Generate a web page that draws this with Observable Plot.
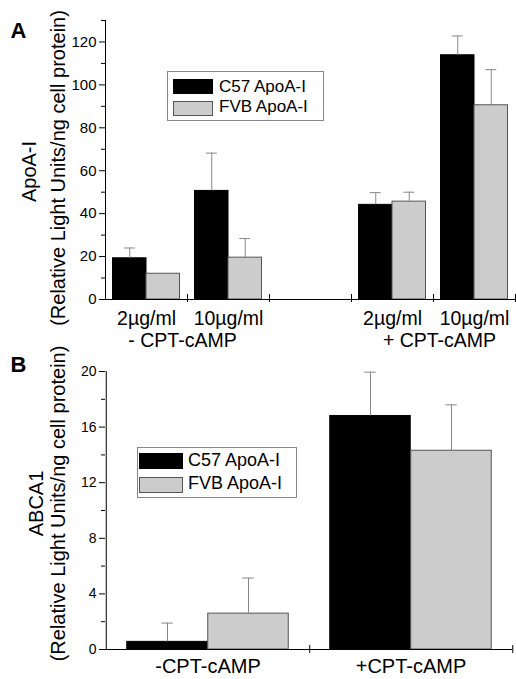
<!DOCTYPE html>
<html><head><meta charset="utf-8">
<script src="https://cdn.jsdelivr.net/npm/d3@7"></script>
<script src="https://cdn.jsdelivr.net/npm/@observablehq/plot@0.6"></script>
<style>
body{margin:0;background:#fff;font-family:"Liberation Sans",Arial,sans-serif;}
#wrap{position:relative;width:516px;height:679px;overflow:hidden;background:#fff;}
#wrap svg{display:block;overflow:visible;}
.box{position:absolute;border:1px solid #888;background:#fff;box-sizing:border-box;}
.sw{position:absolute;box-sizing:border-box;border:1px solid;}
.lt{position:absolute;white-space:nowrap;color:#000;line-height:1;}
</style></head><body><div id="wrap"></div>
<script>
// ---- data ----
const seriesNames = ["C57 ApoA-I", "FVB ApoA-I"];
const seriesFill = ["#000000", "#cccccc"];
const seriesStroke = ["#000000", "#555555"];
const errColor = "#888888";

const aCategories = ["2µg/ml -cAMP", "10µg/ml -cAMP", "gap", "2µg/ml +cAMP", "10µg/ml +cAMP"];
const aTickLabels = ["2µg/ml", "10µg/ml", "", "2µg/ml", "10µg/ml"];
const aGroupLabels = ["- CPT-cAMP", "+ CPT-cAMP"];
const aC57 = [19.2, 50.6, null, 44.1, 113.8];
const aC57Err = [4.8, 17.6, null, 5.7, 9.0];
const aFVB = [12.0, 19.5, null, 45.6, 90.5];
const aFVBErr = [0, 8.9, null, 4.4, 16.6];
const aYTicks = [0, 20, 40, 60, 80, 100, 120];
const aYMinor = [10, 30, 50, 70, 90, 110, 130];
const aYLabel = ["ApoA-I", "(Relative Light Units/ng cell protein)"];

const bCategories = ["-CPT-cAMP", "+CPT-cAMP"];
const bTickLabels = ["-CPT-cAMP", "+CPT-cAMP"];
const bC57 = [0.55, 16.8];
const bC57Err = [1.35, 3.15];
const bFVB = [2.58, 14.3];
const bFVBErr = [2.56, 3.3];
const bYTicks = [0, 4, 8, 12, 16, 20];
const bYMinor = [2, 6, 10, 14, 18];
const bYLabel = ["ABCA1", "(Relative Light Units/ng cell protein)"];

function rowsFor(cats, c57, c57e, fvb, fvbe) {
  const out = [];
  cats.forEach((c, i) => {
    if (c57[i] != null) out.push({cat: c, s: 0, value: c57[i], err: c57e[i]});
    if (fvb[i] != null) out.push({cat: c, s: 1, value: fvb[i], err: fvbe[i]});
  });
  return out;
}

function panel(cfg) {
  const W = 516;
  const bw = (W - cfg.marginLeft - cfg.marginRight) / cfg.cats.length;
  const pad = cfg.pad;
  const w = (bw - 2 * pad) / 2;
  const cap = cfg.cap;
  const rows = rowsFor(cfg.cats, cfg.c57, cfg.c57Err, cfg.fvb, cfg.fvbErr);
  const marks = [];
  [0, 1].forEach(s => {
    const data = rows.filter(d => d.s === s);
    marks.push(Plot.barY(data, {
      x: "cat", y: "value", fill: seriesFill[s], stroke: seriesStroke[s], strokeWidth: 1,
      insetLeft: s === 0 ? pad : pad + w, insetRight: s === 0 ? pad + w : pad
    }));
    const ed = data.filter(d => d.err > 0);
    marks.push(Plot.ruleX(ed, {
      x: "cat", y1: "value", y2: d => d.value + d.err, dx: s === 0 ? -w / 2 : w / 2,
      stroke: errColor, strokeWidth: 1
    }));
    const cx = s === 0 ? pad + w / 2 : pad + w + w / 2;
    marks.push(Plot.tickY(ed, {
      x: "cat", y: d => d.value + d.err, stroke: errColor, strokeWidth: 1,
      insetLeft: cx - cap / 2, insetRight: bw - cx - cap / 2
    }));
  });
  marks.push(Plot.ruleY([0], {stroke: "#000", strokeWidth: 1}));
  marks.push(Plot.ruleX([cfg.cats[0]], {x: d => d, y1: 0, y2: cfg.yMax, dx: -bw / 2, stroke: "#000", strokeWidth: 1}));
  marks.push(Plot.ruleX(cfg.cats, {x: d => d, y1: 0, y2: 0, dx: bw / 2, insetTop: -cfg.xTickUp, insetBottom: -cfg.xTickDown, stroke: "#000", strokeWidth: 1}));
  marks.push(Plot.axisY(cfg.yTicks, {tickSize: 6, tickPadding: 3, fontSize: cfg.yFont, label: null, stroke: "#000"}));
  marks.push(Plot.axisY(cfg.yMinor, {tickSize: 4, tickFormat: () => "", label: null, stroke: "#000"}));
  marks.push(Plot.axisX(cfg.cats, {tickSize: 0, tickPadding: cfg.xPad, fontSize: cfg.xFont, label: null,
    tickFormat: d => cfg.tickLabels[cfg.cats.indexOf(d)]}));
  marks.push(Plot.text([cfg.yLabel[0]], {frameAnchor: "left", textAnchor: "middle", rotate: -90, fontSize: 20, dx: cfg.l1dx, dy: cfg.l1dy}));
  marks.push(Plot.text([cfg.yLabel[1]], {frameAnchor: "left", textAnchor: "middle", rotate: -90, fontSize: 20, dx: cfg.l2dx, dy: cfg.l2dy}));
  marks.push(Plot.text([cfg.letter], {frameAnchor: "top-left", textAnchor: "start", fontSize: 22, fontWeight: "bold", dx: -95, dy: cfg.letterDy}));
  if (cfg.extra) marks.push(...cfg.extra(bw));
  return Plot.plot({
    width: W, height: cfg.height,
    marginLeft: cfg.marginLeft, marginRight: cfg.marginRight, marginTop: cfg.marginTop, marginBottom: cfg.marginBottom,
    style: {fontFamily: "'Liberation Sans', Arial, sans-serif", color: "#000", background: "transparent", overflow: "visible"},
    x: {type: "band", domain: cfg.cats, padding: 0},
    y: {domain: [0, cfg.yMax]},
    marks
  });
}

const wrap = document.getElementById("wrap");

const svgA = panel({
  cats: aCategories, tickLabels: aTickLabels, c57: aC57, c57Err: aC57Err, fvb: aFVB, fvbErr: aFVBErr,
  yMax: 130, yTicks: aYTicks, yMinor: aYMinor, yLabel: aYLabel, letter: "A",
  height: 347, marginLeft: 105, marginRight: 1, marginTop: 20, marginBottom: 48,
  pad: 7.5, cap: 11, yFont: 15, xFont: 19.5, xPad: 12, xTickUp: 5, xTickDown: 3,
  l1dx: -75.5, l1dy: 11.5, l2dx: -47, l2dy: 8, letterDy: 1.6,
  extra: (bw) => [
    Plot.text([aGroupLabels[0]], {x: () => aCategories[1], frameAnchor: "bottom", lineAnchor: "top", fontSize: 19.5, dy: 34, dx: -bw / 2 - 5}),
    Plot.text([aGroupLabels[1]], {x: () => aCategories[4], frameAnchor: "bottom", lineAnchor: "top", fontSize: 19.5, dy: 34, dx: -bw / 2 + 6})
  ]
});
wrap.appendChild(svgA);

const svgB = panel({
  cats: bCategories, tickLabels: bTickLabels, c57: bC57, c57Err: bC57Err, fvb: bFVB, fvbErr: bFVBErr,
  yMax: 20, yTicks: bYTicks, yMinor: bYMinor, yLabel: bYLabel, letter: "B",
  height: 332, marginLeft: 105, marginRight: 4, marginTop: 24, marginBottom: 30,
  pad: 20.75, cap: 12, yFont: 14, xFont: 20, xPad: 9, xTickUp: 4, xTickDown: 4,
  l1dx: -68.8, l1dy: -7, l2dx: -47, l2dy: -7, letterDy: -14.7
});
wrap.appendChild(svgB);

function legend(box, sw, txt) {
  const b = document.createElement("div");
  b.className = "box";
  Object.assign(b.style, {left: box[0] + "px", top: box[1] + "px", width: box[2] + "px", height: box[3] + "px"});
  wrap.appendChild(b);
  seriesNames.forEach((name, i) => {
    const s = document.createElement("div");
    s.className = "sw";
    Object.assign(s.style, {left: sw.x + "px", top: sw.tops[i] + "px", width: sw.w + "px", height: sw.h + "px",
      background: seriesFill[i], borderColor: seriesStroke[i]});
    wrap.appendChild(s);
    const t = document.createElement("div");
    t.className = "lt";
    t.textContent = name;
    Object.assign(t.style, {left: txt.x + "px", top: txt.tops[i] + "px", fontSize: txt.size + "px"});
    wrap.appendChild(t);
  });
}
legend([167, 71, 157, 50], {x: 173, w: 40, h: 15, tops: [79, 100.5]}, {x: 219, size: 17, tops: [77.6, 98]});
legend([137, 447, 160, 51], {x: 139, w: 44, h: 16, tops: [453, 476.5]}, {x: 188, size: 18, tops: [450.8, 474.3]});
</script></body></html>
